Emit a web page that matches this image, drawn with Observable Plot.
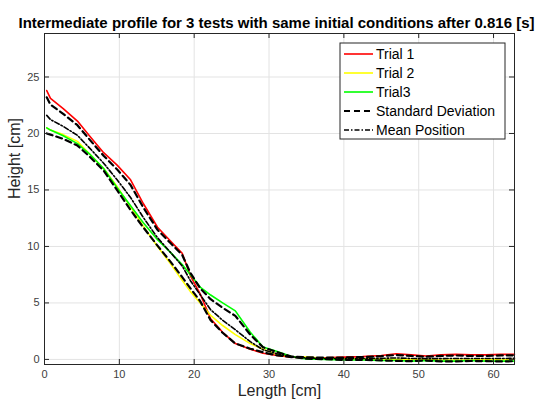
<!DOCTYPE html>
<html>
<head>
<meta charset="utf-8">
<script src="https://cdn.jsdelivr.net/npm/d3@7"></script>
<script src="https://cdn.jsdelivr.net/npm/@observablehq/plot@0.6"></script>
<style>
  html, body { margin: 0; padding: 0; background: #fff; }
  #chart { position: relative; width: 544px; height: 407px; }
</style>
</head>
<body>
<div id="chart"></div>
<script>
// ---- data ----
const titleText = "Intermediate profile for 3 tests with same initial conditions after 0.816 [s]";
const xLabel = "Length [cm]";
const yLabel = "Height [cm]";
const xTicks = [0, 10, 20, 30, 40, 50, 60];
const yTicks = [0, 5, 10, 15, 20, 25];
const xDomain = [0, 62.8];
const yDomain = [-0.45, 28.85];

const lengthCm = [0.3, 0.8, 2.5, 4.4, 6, 7.9, 9.7, 11.5, 13.2, 15.1, 16.8, 18.4, 19.5, 20.8, 22.2, 23.8, 25.5, 27.5, 29.2, 31.1, 33, 35, 37.5, 40, 42.5, 45, 47, 49, 51, 53, 55, 57, 59, 61, 62.8];
const trial1 = [23.8, 23.1, 22.2, 21.1, 19.8, 18.3, 17.2, 15.9, 13.8, 11.7, 10.5, 9.4, 7.4, 5.8, 3.6, 2.4, 1.4, 0.9, 0.55, 0.35, 0.2, 0.15, 0.15, 0.2, 0.25, 0.35, 0.5, 0.4, 0.3, 0.4, 0.45, 0.4, 0.4, 0.45, 0.45];
const trial2 = [20.5, 20.3, 19.9, 19.3, 18.2, 16.9, 15.3, 13.5, 11.8, 10.0, 8.5, 7.0, 6.0, 5.0, 3.9, 3.0, 2.2, 1.4, 0.9, 0.45, 0.25, 0.2, 0.1, 0.05, 0.05, 0.05, 0.0, 0.0, 0.0, -0.05, -0.05, -0.05, 0.0, -0.05, 0.0];
const trial3 = [20.5, 20.3, 19.8, 19.1, 18.2, 16.9, 15.2, 13.6, 12.1, 10.6, 9.5, 8.4, 7.5, 6.4, 5.7, 5.0, 4.3, 2.4, 1.1, 0.7, 0.25, 0.05, 0.0, -0.05, -0.05, -0.1, -0.1, -0.15, -0.1, -0.15, -0.15, -0.1, -0.15, -0.15, -0.15];
const meanPos = [21.6, 21.23, 20.63, 19.83, 18.73, 17.37, 15.9, 14.33, 12.57, 10.77, 9.5, 8.27, 6.97, 5.73, 4.4, 3.47, 2.63, 1.57, 0.85, 0.5, 0.23, 0.13, 0.08, 0.07, 0.08, 0.1, 0.13, 0.08, 0.07, 0.07, 0.08, 0.08, 0.08, 0.08, 0.1];
const sdUpper = [23.2, 22.55, 21.74, 20.73, 19.48, 18.03, 16.82, 15.44, 13.45, 11.47, 10.32, 9.25, 7.65, 6.3, 5.33, 4.58, 3.85, 2.19, 1.07, 0.65, 0.25, 0.19, 0.15, 0.17, 0.21, 0.29, 0.39, 0.31, 0.24, 0.31, 0.35, 0.31, 0.31, 0.35, 0.36];
const sdLower = [20.0, 19.9, 19.52, 18.93, 17.98, 16.71, 14.98, 13.22, 11.69, 10.07, 8.68, 7.29, 6.29, 5.16, 3.47, 2.36, 1.41, 0.95, 0.63, 0.35, 0.21, 0.07, 0.02, -0.04, -0.04, -0.09, -0.13, -0.15, -0.10, -0.17, -0.18, -0.14, -0.15, -0.18, -0.16];

const seriesNames = ["Trial 1", "Trial 2", "Trial3", "Standard Deviation", "Mean Position"];
const seriesColors = ["#ff0000", "#ffff00", "#00ff00", "#000000", "#000000"];

// ---- build table ----
const pts = (vals) => lengthCm.map((x, i) => ({x, y: vals[i]}));

const axisColor = "#262626";
const gridColor = "#e3e3e3";
const font = "'Liberation Sans', Arial, Helvetica, sans-serif";
const yTickLen = (xDomain[1] - xDomain[0]) * 5 / 470;
const xTickLen = (yDomain[1] - yDomain[0]) * 5 / 331;

const plot = Plot.plot({
  width: 544,
  height: 407,
  marginLeft: 44,
  marginRight: 30,
  marginTop: 33,
  marginBottom: 43,
  style: {fontFamily: font, background: "#fff", overflow: "visible"},
  x: {domain: xDomain},
  y: {domain: yDomain},
  marks: [
    Plot.ruleX(xTicks, {x: d => d, stroke: gridColor, strokeWidth: 1}),
    Plot.ruleY(yTicks, {y: d => d, stroke: gridColor, strokeWidth: 1}),
    Plot.line(pts(trial1), {x: "x", y: "y", stroke: seriesColors[0], strokeWidth: 1.6}),
    Plot.line(pts(trial2), {x: "x", y: "y", stroke: seriesColors[1], strokeWidth: 1.6}),
    Plot.line(pts(trial3), {x: "x", y: "y", stroke: seriesColors[2], strokeWidth: 1.6}),
    Plot.line(pts(sdUpper), {x: "x", y: "y", stroke: seriesColors[3], strokeWidth: 2.2, strokeDasharray: "6,4"}),
    Plot.line(pts(sdLower), {x: "x", y: "y", stroke: seriesColors[3], strokeWidth: 2.2, strokeDasharray: "6,4"}),
    Plot.line(pts(meanPos), {x: "x", y: "y", stroke: seriesColors[4], strokeWidth: 1.6, strokeDasharray: "5,2,1.5,2"}),
    // inward ticks (box on)
    Plot.ruleX(xTicks, {x: d => d, y1: yDomain[0], y2: yDomain[0] + xTickLen, stroke: axisColor}),
    Plot.ruleX(xTicks, {x: d => d, y1: yDomain[1] - xTickLen, y2: yDomain[1], stroke: axisColor}),
    Plot.ruleY(yTicks, {y: d => d, x1: xDomain[0], x2: xDomain[0] + yTickLen, stroke: axisColor}),
    Plot.ruleY(yTicks, {y: d => d, x1: xDomain[1] - yTickLen, x2: xDomain[1], stroke: axisColor}),
    Plot.frame({stroke: axisColor, strokeWidth: 1}),
    Plot.axisX(xTicks, {tickSize: 0, tickPadding: 6, fontSize: 11, fill: "#404040", label: null}),
    Plot.axisY(yTicks, {tickSize: 0, tickPadding: 5, fontSize: 11, fill: "#404040", label: null}),
    Plot.text([titleText], {frameAnchor: "top", dx: -3, dy: -16, fontSize: 15, fontWeight: "bold", fill: "#000"}),
    Plot.text([xLabel], {frameAnchor: "bottom", dy: 31, fontSize: 16, fill: axisColor}),
    Plot.text([yLabel], {frameAnchor: "left", dx: -30, rotate: -90, fontSize: 16, fill: axisColor})
  ]
});

document.getElementById("chart").appendChild(plot);

// ---- legend (drawn into the same SVG) ----
const svg = d3.select(plot);
const lg = svg.append("g").attr("transform", "translate(340,43)")
  .style("font-family", font).attr("text-anchor", "start");
lg.append("rect").attr("width", 165).attr("height", 96).attr("fill", "#fff").attr("stroke", axisColor).attr("stroke-width", 1);
const dashes = [null, null, null, "6,4", "5,2,1.5,2"];
const widths = [1.6, 1.6, 1.6, 2.2, 1.6];
seriesNames.forEach((name, i) => {
  const cy = 11 + i * 19;
  lg.append("line").attr("x1", 4).attr("x2", 33).attr("y1", cy).attr("y2", cy)
    .attr("stroke", seriesColors[i]).attr("stroke-width", widths[i])
    .attr("stroke-dasharray", dashes[i]);
  lg.append("text").attr("x", 36).attr("y", cy).attr("dy", "0.35em")
    .attr("text-anchor", "start")
    .attr("font-size", 14).attr("fill", "#000").text(name);
});
</script>
</body>
</html>
